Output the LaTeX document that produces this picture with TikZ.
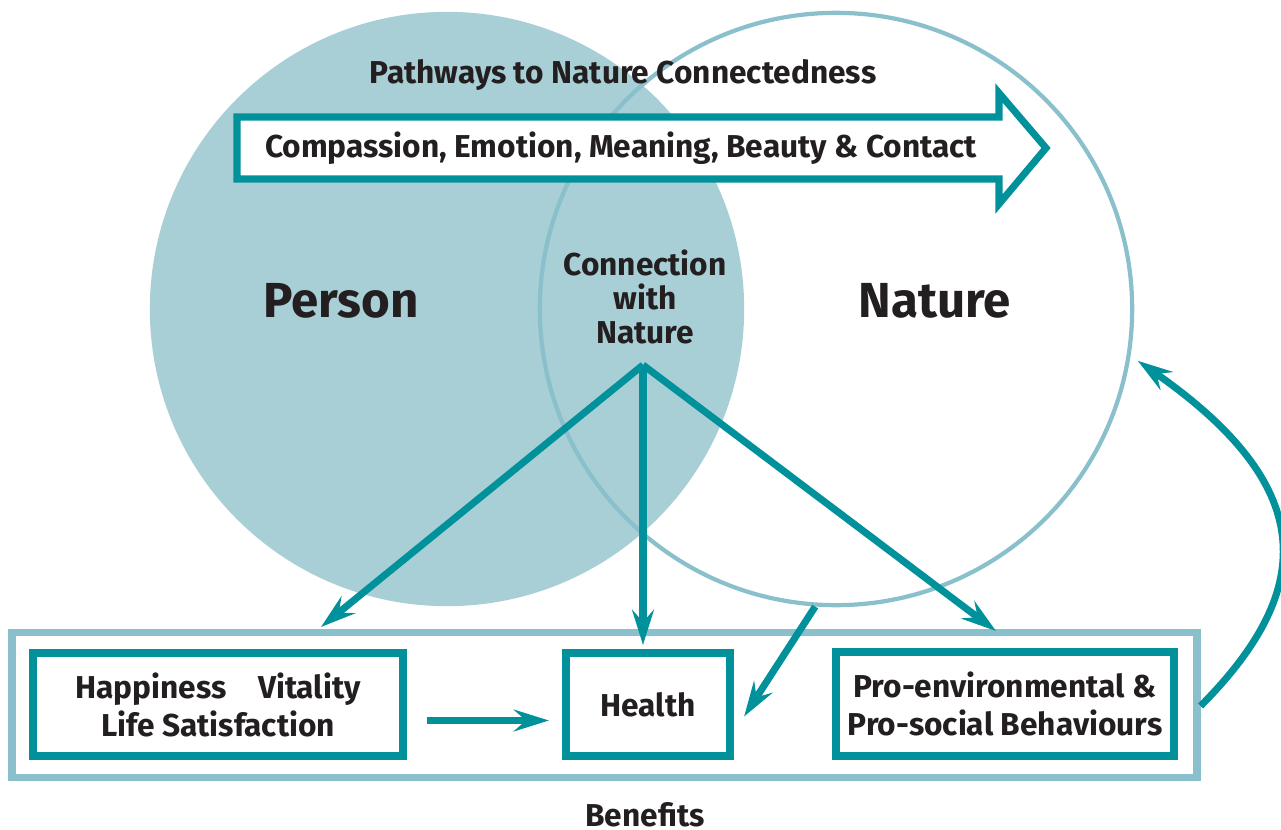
\documentclass[tikz,border=0pt]{standalone}
\usepackage{fontspec}
\setmainfont{Fira Sans}
\usepackage{tikz}
\usetikzlibrary{arrows.meta, positioning}
\definecolor{teal}{RGB}{0,145,155}
\definecolor{personfill}{RGB}{168,207,213}
\definecolor{ringline}{RGB}{138,192,203}
\definecolor{inkblack}{RGB}{35,31,32}
\tikzset{
>={Stealth[length=10pt, width=6.2pt, inset=3.5pt]}, % narrow arrow heads
flow/.style={->, draw=teal, line width=2pt}, % teal arrows
benefitbox/.style={draw=teal, line width=2.3pt, fill=white, align=center, text=inkblack, font=\bfseries\fontsize{9}{10.8}\selectfont}, % the three benefit boxes
label/.style={text=inkblack, font=\bfseries\fontsize{9}{10}\selectfont, align=center}, % plain labels
}

\begin{document}
\begin{tikzpicture}[x=0.01cm, y=-0.01cm]
        \useasboundingbox (0,0) rectangle (1281,830);

        % the two circles
        \node[circle, fill=personfill, minimum size=5.94cm] (person) at (447,309) {};
        \node[circle, draw=ringline, line width=1.2pt, minimum size=5.92cm] (nature) at (836,309) {};

        % pathways arrow
        \draw[teal, fill=white, line width=2pt] (237,117) -- (999,117) -- (999,93) -- (1046,148)
        -- (999,204) -- (999,179) -- (237,179) -- cycle;
        \node[label] (pathtext) at (621,148) {Compassion, Emotion, Meaning, Beauty \& Contact};
        \node[label] (title) at (623,75) {Pathways to Nature Connectedness};

        \node[label, font=\bfseries\fontsize{14}{16}\selectfont] (personlabel) at (341,301) {Person};
        \node[label, font=\bfseries\fontsize{14}{16}\selectfont] (naturelabel) at (935,301) {Nature};
        \node[label, font=\bfseries\fontsize{9}{9.7}\selectfont] (connection) at (645,297) {Connection\\with\\Nature};
        \coordinate (apex) at (643,365);

        % benefits
        \node[draw=ringline, line width=2.1pt, minimum width=11.84cm, minimum height=1.45cm] (benefits) at (604.5,705) {};
        \node[benefitbox, minimum width=3.70cm, minimum height=1.03cm] (happy) at (218,704.5) {Happiness\quad Vitality\\Life Satisfaction};
        \node[benefitbox, minimum width=1.64cm, minimum height=1.03cm] (health) at (648,704.5) {Health};
        \node[benefitbox, minimum width=3.38cm, minimum height=1.04cm] (proenv) at (1005,704) {Pro-environmental \&\\Pro-social Behaviours};
        \node[label] (benefitlabel) at (645,815) {Benefits};

        \coordinate (leftend) at (321,627);
        \coordinate (midend) at (643,645);
        \coordinate (rightend) at (996,631);

        \draw[flow] (apex) -- (leftend);
        \draw[flow] (apex) -- (midend);
        \draw[flow] (apex) -- (rightend);
        \draw[flow] ([shift={(20,16)}]happy.east) -- ([shift={(-13,16)}]health.west);
        \draw[flow] (nature.-94) -- ([shift={(10,12)}]health.east);
        \draw[flow] (benefits.east |- 0,706) .. controls (1319,587) and (1316,485) .. ([shift={(8,0)}]nature.-10);
      \end{tikzpicture}
\end{document}
